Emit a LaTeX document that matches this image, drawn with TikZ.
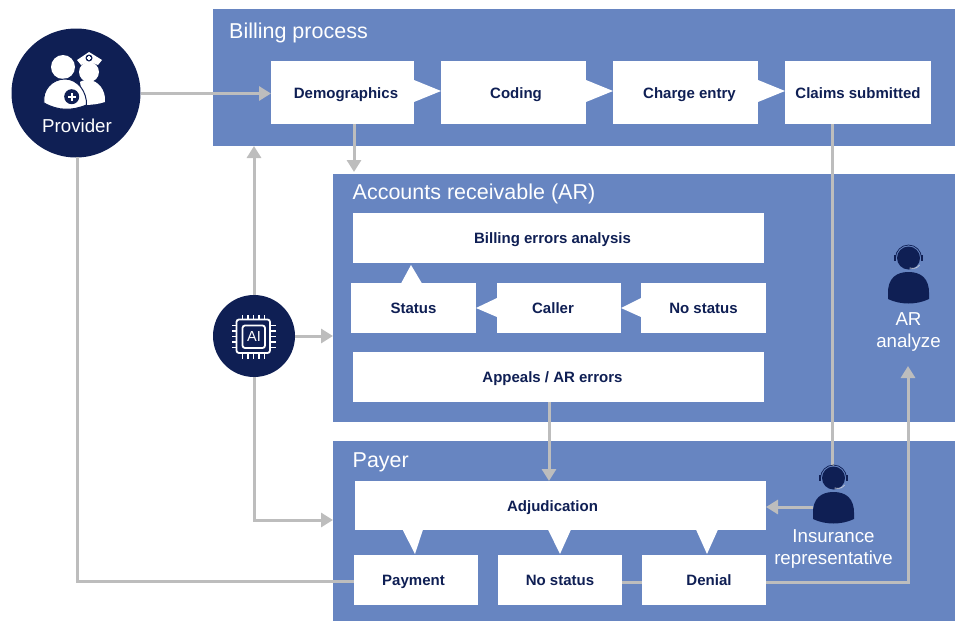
\documentclass[tikz,border=0pt]{standalone}
\usepackage{fontspec}
\usepackage{tikz}
\usetikzlibrary{arrows.meta}
\setmainfont{Liberation Sans}
\definecolor{panelblue}{HTML}{6785C1}
\definecolor{navy}{HTML}{0F1F54}
\definecolor{linegray}{HTML}{BDBDBD}
\tikzset{
	panel/.style={fill=panelblue, inner sep=0pt, outer sep=0pt},
	panellabel/.style={text=white, anchor=west, inner sep=0pt, font=\fontsize{21.5}{24}\selectfont},
	whitelabel/.style={text=white, align=center, inner sep=0pt, font=\fontsize{18.7}{22}\selectfont},
	stepbox/.style={fill=white, text=navy, inner sep=0pt, outer sep=0pt, text height=13pt, text depth=2pt, font=\bfseries\fontsize{15}{18}\selectfont},
	tip/.style={fill=white, draw=none},
	roundel/.style={circle, fill=navy, inner sep=0pt, outer sep=0pt},
	link/.style={draw=linegray, line width=3pt},
	arrowlink/.style={link, -{Triangle[length=12pt, width=14pt]}},
	pics/agent/.style={code={
		\fill[navy] (-20.5,24) .. controls (-21,8) and (-12,2) .. (0,2) .. controls (12,2) and (21,8) .. (20.5,24) -- (20.5,29) .. controls (8,35) and (-8,35) .. (-20.5,29) -- cycle;
		\fill[navy] (0,-12) circle (11.5pt);
		\draw[navy, line width=0.7pt] (-13,-12) arc (180:360:13);
		\fill[navy] (-14.5,-15) rectangle (-12.5,-9);
		\fill[navy] (12.5,-15) rectangle (14.5,-9);
		\draw[white!75!navy, line width=0.8pt] (11,-5) .. controls (9,-2) and (6,-1) .. (1,-2);
	}}
}
\begin{document}
\begin{tikzpicture}[x=1pt, y=-1pt]
	\useasboundingbox (0,0) rectangle (959,621);
	% panels
	\node (billing) [panel, minimum width=742pt, minimum height=137pt] at (584,77.5) {};
	\node (ar) [panel, minimum width=622pt, minimum height=248pt] at (644,298) {};
	\node (payer) [panel, minimum width=622pt, minimum height=180pt] at (644,531) {};
	\node (billingtitle) [panellabel] at (229,33) {Billing process};
	\node (artitle) [panellabel] at (352.5,194) {Accounts receivable (AR)};
	\node (payertitle) [panellabel] at (352.5,462) {Payer};
	% billing row
	\node (demog) [stepbox, minimum width=143pt, minimum height=63pt] at (342.5,92.5) {\hspace{7pt}Demographics};
	\node (coding) [stepbox, minimum width=145pt, minimum height=63pt] at (513.5,92.5) {\hspace{5pt}Coding};
	\node (charge) [stepbox, minimum width=145pt, minimum height=63pt] at (685.5,92.5) {\hspace{8pt}Charge entry};
	\node (claims) [stepbox, minimum width=146pt, minimum height=63pt] at (858,92.5) {Claims submitted};
	\fill[tip] (414,80) -- (441,91) -- (414,102) -- cycle;
	\fill[tip] (586,80) -- (613,91) -- (586,102) -- cycle;
	\fill[tip] (758,80) -- (785,91) -- (758,102) -- cycle;
	% accounts receivable
	\node (errors) [stepbox, minimum width=411pt, minimum height=50pt] at (558.5,237.5) {\hspace{-12pt}Billing errors analysis};
	\node (status) [stepbox, minimum width=125pt, minimum height=50pt] at (413.5,308) {Status};
	\node (caller) [stepbox, minimum width=124pt, minimum height=50pt] at (559,308) {\hspace{-12pt}Caller};
	\node (nostatusar) [stepbox, minimum width=125pt, minimum height=50pt] at (703.5,308) {No status};
	\node (appeals) [stepbox, minimum width=411pt, minimum height=50pt] at (558.5,377) {\hspace{-12pt}Appeals / AR errors};
	\fill[tip] (401,283.5) -- (411,265) -- (422,283.5) -- cycle;
	\fill[tip] (497,298) -- (476,308) -- (497,317) -- cycle;
	\fill[tip] (641,298) -- (621,308) -- (641,317) -- cycle;
	% payer
	\node (adjud) [stepbox, minimum width=411pt, minimum height=49pt] at (560.5,505.5) {\hspace{-16pt}Adjudication};
	\node (payment) [stepbox, minimum width=124pt, minimum height=50pt] at (416,580) {\hspace{-5pt}Payment};
	\node (nostatuspay) [stepbox, minimum width=124pt, minimum height=50pt] at (560,580) {No status};
	\node (denial) [stepbox, minimum width=124pt, minimum height=50pt] at (704,580) {\hspace{10pt}Denial};
	\fill[tip] (402.5,529.5) -- (415,554) -- (423,529.5) -- cycle;
	\fill[tip] (548,529.5) -- (560,554) -- (571,529.5) -- cycle;
	\fill[tip] (696,529.5) -- (707,554) -- (718,529.5) -- cycle;
	% provider and ai
	\node (provider) [roundel, minimum size=129pt] at (76,93) {};
	\node (providerlabel) [whitelabel] at (77,125.5) {Provider};
	\node (ai) [roundel, minimum size=82pt] at (254,336) {};
	\node (arlabel) [whitelabel] at (908.5,332) {AR\\analyze};
	\node (inslabel) [whitelabel] at (833.5,549) {Insurance\\representative};
	\coordinate (agenttop) at (832,466);
	\coordinate (agentleft) at (813,507);
	\coordinate (arbottom) at (908,366);
	\coordinate (appealsout) at (549,402);
	\coordinate (adjudin) at (549,481);
	\coordinate (demogout) at (354,124);
	\coordinate (arin) at (354,172);
	\coordinate (providerdown) at (77,157);
	% connectors
	\draw[arrowlink] (provider.east |- 0,93.5) -- (demog.west |- 0,93.5);
	\draw[arrowlink] (demogout) -- (arin);
	\draw[arrowlink] (ai.north) -- (ai.north |- billing.south);
	\draw[arrowlink] (ai.east) -- (ar.west |- ai.east);
	\draw[arrowlink] (ai.south) |- (payer.west |- 0,520);
	\draw[link] (providerdown) |- (payment.west |- 0,581);
	\draw[link] (claims.south -| agenttop) -- (agenttop);
	\draw[arrowlink] (agentleft) -- (adjud.east |- agentleft);
	\draw[arrowlink] (appealsout) -- (adjudin);
	\draw[link] (nostatuspay.east |- 0,582) -- (denial.west |- 0,582);
	\draw[arrowlink] (denial.east |- 0,582) -| (arbottom);
	% agents
	\pic at (908.5,270) {agent};
	\pic at (833.5,490) {agent};
	% provider icon
	\fill[white] (63,67) circle (12pt);
	\fill[white] (80,82) .. controls (83,80) and (86,80) .. (88,80) .. controls (98,80) and (106,90) .. (105,102) .. controls (99,104) and (92,105) .. (84,105) -- cycle;
	\fill[white] (89,72) circle (10pt);
	\fill[white] (77,60) -- (89,52) -- (102,60) -- (98,65) .. controls (92,62) and (86,62) .. (81,65) -- cycle;
	\fill[navy] (89,58) circle (3.5pt);
	\fill[white] (88.4,55.8) rectangle (89.6,60.2);
	\fill[white] (86.8,57.4) rectangle (91.2,58.6);
	\filldraw[fill=white, draw=navy, line width=1pt] (44,103) .. controls (42,90) and (52,79) .. (65,79) .. controls (78,79) and (87,92) .. (86.5,105) .. controls (72,111) and (58,111) .. (44,103) -- cycle;
	\fill[navy] (71.7,96.7) circle (7.5pt);
	\fill[white] (70.5,92.7) rectangle (73,100.7);
	\fill[white] (67.7,95.5) rectangle (75.7,98);
	% chip icon
	\draw[white, line width=1.8pt, rounded corners=2.5pt] (236.5,319.5) rectangle (270,353);
	\draw[white, line width=1.8pt, rounded corners=2.5pt] (242.5,325.5) rectangle (265,348);
	\foreach \offs in {-11,-5.5,0,5.5,11} {
		\draw[white, line width=1.5pt] (253.5+\offs,319) -- (253.5+\offs,314.5);
		\draw[white, line width=1.5pt] (253.5+\offs,353.5) -- (253.5+\offs,358.5);
		\draw[white, line width=1.5pt] (237,336.5+\offs) -- (231.5,336.5+\offs);
		\draw[white, line width=1.5pt] (270,336.5+\offs) -- (275.5,336.5+\offs);
	}
	\node (aitext) [text=white, inner sep=0pt, font=\fontsize{14.5}{14}\selectfont] at (254,336.5) {AI};
\end{tikzpicture}
\end{document}
